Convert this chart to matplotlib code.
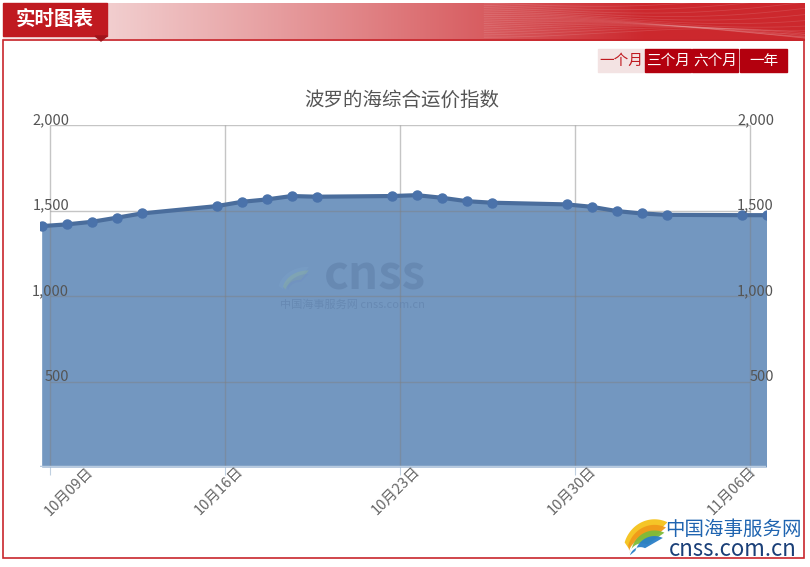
import numpy as np
import matplotlib.pyplot as plt
import matplotlib.dates as mdates
from matplotlib.patches import Rectangle, Polygon
from datetime import datetime

plt.rcParams['font.family'] = ['Noto Sans CJK SC', 'DejaVu Sans']

# data (BDI, Oct 8 - Nov 6)
dates = ['2018-10-08', '2018-10-09', '2018-10-10', '2018-10-11', '2018-10-12',
         '2018-10-15', '2018-10-16', '2018-10-17', '2018-10-18', '2018-10-19',
         '2018-10-22', '2018-10-23', '2018-10-24', '2018-10-25', '2018-10-26',
         '2018-10-29', '2018-10-30', '2018-10-31', '2018-11-01', '2018-11-02',
         '2018-11-05', '2018-11-06']
values = [1410, 1420, 1435, 1459, 1484,
          1527, 1552, 1566, 1586, 1582,
          1586, 1591, 1576, 1556, 1547,
          1537, 1523, 1498, 1484, 1476,
          1474, 1474]
tick_dates = ['2018-10-09', '2018-10-16', '2018-10-23', '2018-10-30', '2018-11-06']
tick_labels = ['10月09日', '10月16日', '10月23日', '10月30日', '11月06日']
y_ticks = [500, 1000, 1500, 2000]
buttons = ['一个月', '三个月', '六个月', '一年']

W, H = 810, 567
fig = plt.figure(figsize=(8.1, 5.67), dpi=100)
fig.patch.set_facecolor('white')


def fx(px):
    return px / W


def fy(py):
    return 1 - py / H


# header banner with gradient
bax = fig.add_axes([fx(3), fy(41), fx(802), 38 / H])
grad = np.linspace(0, 1, 400)
c0 = np.array([0.97, 0.91, 0.91])
c1 = np.array([0.80, 0.16, 0.18])
g = np.clip(grad * 1.25, 0, 1) ** 1.1
img = (c0[None, :] * (1 - g[:, None]) + c1[None, :] * g[:, None])[None, :, :]
bax.imshow(img, aspect='auto', extent=[0, 1, 0, 1])
tt = np.linspace(0.6, 1, 200)
for k in range(16):
    yy = 0.1 + k * 0.06 + 0.35 * np.sin((tt - 0.6) * 7 + k * 0.3) * (tt - 0.6) * 2.5
    bax.plot(tt, yy, color='white', alpha=0.12, lw=0.6)
bax.set_xlim(0, 1)
bax.set_ylim(0, 1)
bax.axis('off')

# title block
fig.patches.append(Rectangle((fx(3), fy(36)), fx(104), 33 / H, transform=fig.transFigure,
                             color='#c01a20', zorder=3))
fig.patches.append(Polygon([[fx(95), fy(36)], [fx(107), fy(36)], [fx(101), fy(41)]],
                           closed=True, transform=fig.transFigure, color='#a0141a', zorder=3))
fig.text(fx(55), fy(19), '实时图表', color='white', fontsize=14, fontweight='bold',
         ha='center', va='center', zorder=4)

# outer border
fig.patches.append(Rectangle((fx(3), fy(558)), fx(801), (558 - 40) / H, transform=fig.transFigure,
                             fill=False, edgecolor='#c8262c', lw=1.2, zorder=2))

# buttons
bx = [598, 645, 692, 740]
bw = [46, 46, 46, 47]
for i, (lab, x0, w) in enumerate(zip(buttons, bx, bw)):
    if i == 0:
        fc, tc = '#f3e3e3', '#c01a20'
    else:
        fc, tc = '#b3000e', 'white'
    fig.patches.append(Rectangle((fx(x0), fy(72)), fx(w), 23 / H, transform=fig.transFigure,
                                 color=fc, zorder=3))
    fig.text(fx(x0 + w / 2), fy(60.5), lab, color=tc, fontsize=10.5, ha='center',
             va='center', zorder=4)

fig.text(fx(402), fy(100), '波罗的海综合运价指数', color='#555555', fontsize=14,
         ha='center', va='center')

# main chart
x = [mdates.date2num(datetime.strptime(d, '%Y-%m-%d')) + 16 / 24 for d in dates]
xt = [mdates.date2num(datetime.strptime(d, '%Y-%m-%d')) for d in tick_dates]
day_px = 25.0
xmin = xt[0] - (50 - 40) / day_px
xmax = xt[-1] + (766 - 750) / day_px

ax = fig.add_axes([fx(40), fy(467), fx(726), (467 - 125.3) / H])
ax.set_xlim(xmin, xmax)
ax.set_ylim(0, 2000)
for s in ax.spines.values():
    s.set_visible(False)
ax.set_facecolor('none')

ax.fill_between(x, values, 0, color='#7397c0', zorder=2, lw=0)
ax.hlines(y_ticks, xt[0], xt[-1], color='#808080', alpha=0.45, lw=1, zorder=2.5)
ax.vlines(xt, 0, 2000, color='#808080', alpha=0.45, lw=1, zorder=2.5)
ax.plot(x, values, color='#4a6d9c', lw=3, zorder=3)
ax.plot(x, values, 'o', color='#4a72aa', ms=6.5, zorder=4)
ax.axhline(0, color='#b8cbe0', lw=2.5, zorder=5)

ax.set_yticks([])
ax.set_xticks(xt)
ax.set_xticklabels([])
ax.tick_params(axis='x', length=6, color='#c0d0e0')

# rotated date labels (first and last pulled inward, as in the source)
label_shift = [19, -6, -4, -3, -18]
for t, lab, dx in zip(xt, tick_labels, label_shift):
    ax.annotate(lab, xy=(t, 0), xycoords=('data', 'axes fraction'),
                xytext=(dx, -24), textcoords='offset pixels', rotation=45,
                ha='center', va='center', color='#666666', fontsize=10.5)

for v in y_ticks:
    ax.text(xt[0] + 19 / day_px, v + 6, f'{v:,}', color='#555555', fontsize=10.5,
            ha='right', va='baseline', zorder=6)
    ax.text(xt[-1] + 24 / day_px, v + 6, f'{v:,}', color='#555555', fontsize=10.5,
            ha='right', va='baseline', zorder=6)

# watermark
wax = fig.add_axes([fx(272), fy(298), fx(42), 36 / H])
for k, c in enumerate(['#7aa0c8', '#8ab0a0', '#6f8fc0']):
    th = np.linspace(0.2, 1.6, 40)
    r = 1 - k * 0.15
    xs = np.concatenate([r * np.cos(th), 0.6 * r * np.cos(th[::-1]) + 0.25])
    ys = np.concatenate([r * np.sin(th) - 0.3, 0.6 * r * np.sin(th[::-1]) - 0.35])
    wax.fill(1 - xs, ys, color=c, alpha=0.45, lw=0)
wax.set_xlim(-0.2, 1.2)
wax.set_ylim(-0.6, 0.9)
wax.axis('off')
fig.text(fx(375), fy(276), 'cnss', color='#5f80aa', fontsize=34, fontweight='bold',
         ha='center', va='center', alpha=0.6, zorder=10)
fig.text(fx(352), fy(305), '中国海事服务网 cnss.com.cn', color='#5f80aa', fontsize=8,
         ha='center', va='center', alpha=0.6, zorder=10)

# bottom-right logo
lax = fig.add_axes([fx(617), fy(562), fx(50), 46 / H])
cols = ['#f5c21b', '#f09a1a', '#7dbb3a', '#2a7fc8']
for k, c in enumerate(cols):
    th = np.linspace(0.3, 2.0, 50)
    r = 1 - k * 0.12
    xs = np.concatenate([r * np.cos(th), 0.55 * r * np.cos(th[::-1]) + 0.3 + k * 0.05])
    ys = np.concatenate([r * np.sin(th), 0.55 * r * np.sin(th[::-1]) - 0.05])
    lax.fill(1 - xs, ys - 0.2 - k * 0.05, color=c, alpha=0.95, lw=0)
lax.set_xlim(-0.2, 1.4)
lax.set_ylim(-0.5, 0.9)
lax.axis('off')
fig.text(fx(733), fy(529), '中国海事服务网', color='#1f64b0', fontsize=14, ha='center',
         va='center', zorder=10)
fig.text(fx(733), fy(549), 'cnss.com.cn', color='#1a3f78', fontsize=16, ha='center',
         va='center', zorder=10)

fig.savefig('out.png', dpi=100)
